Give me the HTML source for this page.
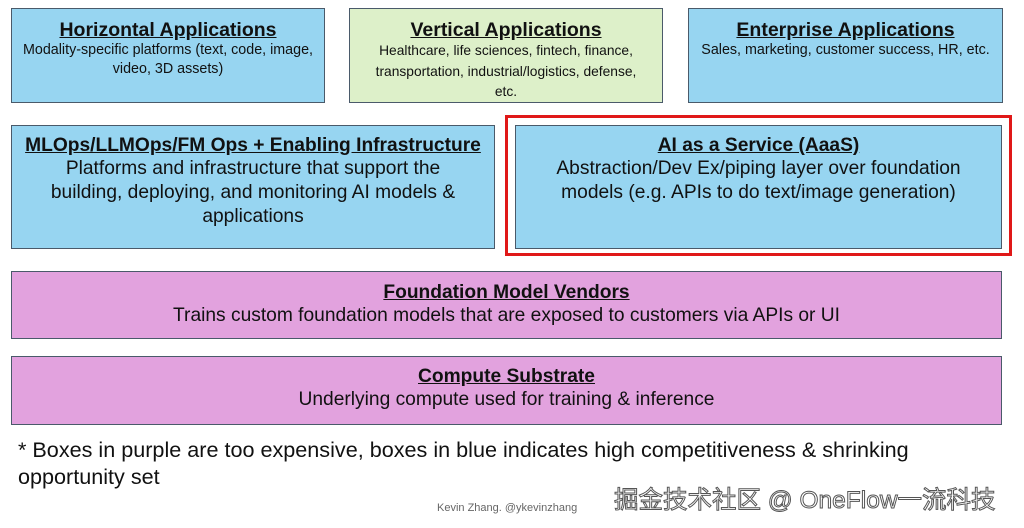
<!DOCTYPE html>
<html><head><meta charset="utf-8"><style>
body{margin:0;width:1024px;height:528px;background:#fff;position:relative;overflow:hidden;font-family:"Liberation Sans","Noto Sans CJK SC",sans-serif;color:#111}
.b{position:absolute;box-sizing:border-box;border:1.5px solid #4a5a6a;text-align:center}
.bl{background:#97d5f1}.gr{background:#ddf0c9}.pu{background:#e2a2de}
.t{font-weight:bold;text-decoration:underline;display:block}
.s1 .t{font-size:19.5px;margin-top:10px;line-height:22px}
.s1 .d{font-size:14.3px;line-height:19px;white-space:nowrap}
.s2 .t{font-size:19.2px;margin-top:9px;line-height:22px;white-space:nowrap}
.s2 .d{font-size:19.2px;line-height:24px;white-space:nowrap}
</style></head><body>
<div class="b bl s1" style="left:11px;top:8px;width:314px;height:95px"><span class="t">Horizontal Applications</span><div class="d">Modality-specific platforms (text, code, image,<br>video, 3D assets)</div></div>
<div class="b gr s1" style="left:349px;top:8px;width:314px;height:95px"><span class="t">Vertical Applications</span><div class="d" style="font-size:13.8px;line-height:20.5px">Healthcare, life sciences, fintech, finance,<br>transportation, industrial/logistics, defense,<br>etc.</div></div>
<div class="b bl s1" style="left:688px;top:8px;width:315px;height:95px"><span class="t">Enterprise Applications</span><div class="d">Sales, marketing, customer success, HR, etc.</div></div>
<div class="b bl s2" style="left:11px;top:125px;width:484px;height:124px"><span class="t">MLOps/LLMOps/FM Ops + Enabling Infrastructure</span><div class="d">Platforms and infrastructure that support the<br>building, deploying, and monitoring AI models &amp;<br>applications</div></div>
<div style="position:absolute;left:505px;top:115px;width:507px;height:141px;box-sizing:border-box;border:3px solid #e01818"></div>
<div class="b bl s2" style="left:515px;top:125px;width:487px;height:124px"><span class="t">AI as a Service (AaaS)</span><div class="d">Abstraction/Dev Ex/piping layer over foundation<br>models (e.g. APIs to do text/image generation)</div></div>
<div class="b pu s2" style="left:11px;top:271px;width:991px;height:68px"><span class="t" style="margin-top:10px">Foundation Model Vendors</span><div class="d">Trains custom foundation models that are exposed to customers via APIs or UI</div></div>
<div class="b pu s2" style="left:11px;top:356px;width:991px;height:69px"><span class="t" style="margin-top:9px">Compute Substrate</span><div class="d">Underlying compute used for training &amp; inference</div></div>
<div style="position:absolute;left:18px;top:436px;font-size:21.6px;line-height:27px;width:1000px;white-space:nowrap">* Boxes in purple are too expensive, boxes in blue indicates high competitiveness &amp; shrinking<br>opportunity set</div>
<div style="position:absolute;left:437px;top:502px;font-size:11px;color:#666">Kevin Zhang. @ykevinzhang</div>
<div style="position:absolute;left:614px;top:481px;font-size:24.5px;color:#fff;-webkit-text-stroke:1px #555;white-space:nowrap">掘金技术社区 @ OneFlow一流科技</div>
</body></html>
